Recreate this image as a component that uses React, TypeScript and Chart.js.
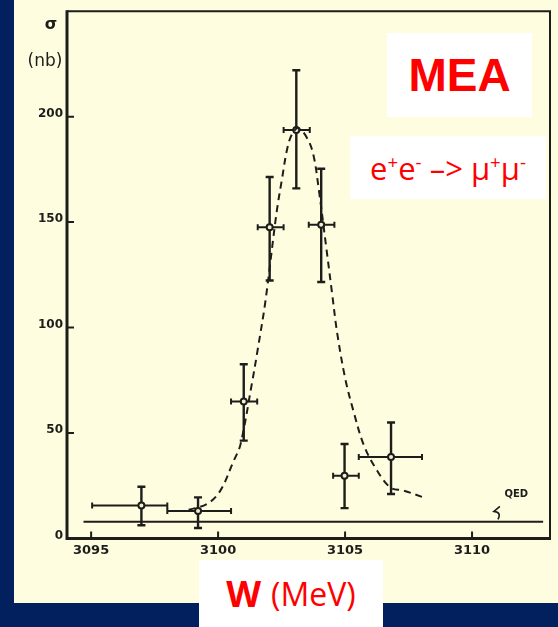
import { useEffect, useRef } from "react";
import { Chart, registerables } from "chart.js";

Chart.register(...registerables);

// Measured cross section of e+e- -> mu+mu- across the resonance
const energies = [3096.98, 3099.21, 3101.01, 3102.03, 3103.08, 3104.06, 3104.98, 3106.81]; // W (MeV)
const binLow = [3095.04, 3098.0, 3100.51, 3101.56, 3102.58, 3103.57, 3104.53, 3105.54];
const binHigh = [3098.0, 3100.51, 3101.54, 3102.58, 3103.61, 3104.58, 3105.54, 3108.03];
const sigma = [15.6, 13.0, 65.0, 147.6, 193.7, 148.8, 29.7, 38.6]; // nb
const sigmaLow = [6.3, 5.0, 46.4, 122.3, 166.0, 121.6, 14.4, 21.1];
const sigmaHigh = [24.5, 19.5, 82.6, 171.4, 222.0, 175.3, 44.8, 55.0];

// Dashed resonance curve
const fitW = [
  3098.84, 3099.57, 3100.09, 3100.61, 3100.88, 3101.34, 3101.56, 3101.86, 3102.3,
  3102.52, 3102.72, 3102.91, 3103.16, 3103.53, 3103.76, 3103.96, 3104.26, 3104.49,
  3104.69, 3105.01, 3105.34, 3105.73, 3106.19, 3106.78, 3107.31, 3108.09,
];
const fitSigma = [
  13.6, 16.4, 22.7, 36.7, 44.5, 74.1, 89.6, 112.2, 154.3, 170.7, 184.7, 191.7, 194.6,
  189.3, 181.5, 166.0, 137.9, 116.1, 97.4, 75.6, 60.0, 44.5, 33.6, 24.2, 22.7, 19.5,
];

// QED expectation level
const qedW = [3094.7, 3112.8];
const qedSigma = [8, 8];
const qedLabelAt = { x: 3111.74, y: 20.8 };
const qedHookAt = { x: 3110.98, y: 11.9 };

const xTicks = [3095, 3100, 3105, 3110];
const yTicks = [0, 50, 100, 150, 200];

const INK = "#1d1d1b";
const PAPER = "#fffde0";
const NAVY = "#03205e";

const paperPlugin = {
  id: "paper",
  beforeDraw(chart: any) {
    const { ctx, width, height } = chart;
    ctx.save();
    ctx.fillStyle = NAVY;
    ctx.fillRect(0, 0, width, height);
    ctx.fillStyle = PAPER;
    ctx.fillRect(14, 0, width - 14, 603);
    ctx.restore();
  },
};

const errorBarPlugin = {
  id: "errorBars",
  beforeDatasetsDraw(chart: any) {
    const { ctx, scales } = chart;
    const xs = scales.x;
    const ys = scales.y;
    ctx.save();
    ctx.strokeStyle = INK;
    ctx.lineCap = "butt";
    energies.forEach((w, i) => {
      const cx = xs.getPixelForValue(w);
      const cy = ys.getPixelForValue(sigma[i]);
      const top = ys.getPixelForValue(sigmaHigh[i]);
      const bot = ys.getPixelForValue(sigmaLow[i]);
      const left = xs.getPixelForValue(binLow[i]);
      const right = xs.getPixelForValue(binHigh[i]);
      // vertical bar with caps
      ctx.lineWidth = 2.4;
      ctx.beginPath();
      ctx.moveTo(cx, top);
      ctx.lineTo(cx, bot);
      ctx.moveTo(cx - 4, top);
      ctx.lineTo(cx + 4, top);
      ctx.moveTo(cx - 4, bot);
      ctx.lineTo(cx + 4, bot);
      ctx.stroke();
      // horizontal bar with caps
      ctx.lineWidth = 2;
      ctx.beginPath();
      ctx.moveTo(left, cy);
      ctx.lineTo(right, cy);
      ctx.moveTo(left, cy - 3);
      ctx.lineTo(left, cy + 3);
      ctx.moveTo(right, cy - 3);
      ctx.lineTo(right, cy + 3);
      ctx.stroke();
    });
    ctx.restore();
  },
};

const framePlugin = {
  id: "frame",
  afterDraw(chart: any) {
    const { ctx, chartArea, scales } = chart;
    const { left, right, top, bottom } = chartArea;
    const xs = scales.x;
    const ys = scales.y;
    ctx.save();
    ctx.strokeStyle = INK;
    // frame
    ctx.lineWidth = 2;
    ctx.beginPath();
    ctx.moveTo(left, top);
    ctx.lineTo(right, top);
    ctx.lineTo(right, bottom);
    ctx.stroke();
    ctx.lineWidth = 3;
    ctx.beginPath();
    ctx.moveTo(left, top - 1);
    ctx.lineTo(left, bottom);
    ctx.lineTo(right + 1, bottom);
    ctx.stroke();
    // inward tick marks
    ctx.lineWidth = 2;
    ctx.beginPath();
    xTicks.forEach((v) => {
      const px = xs.getPixelForValue(v);
      ctx.moveTo(px, bottom);
      ctx.lineTo(px, bottom - 7);
    });
    yTicks.forEach((v) => {
      if (v === 0) return;
      const py = ys.getPixelForValue(v);
      ctx.moveTo(left, py);
      ctx.lineTo(left + 7, py);
    });
    ctx.stroke();

    // axis title
    ctx.fillStyle = INK;
    ctx.textAlign = "center";
    ctx.textBaseline = "middle";
    ctx.font = "bold 16px 'DejaVu Sans'";
    ctx.fillText("σ", 51, 25);
    ctx.font = "17px 'DejaVu Sans'";
    ctx.fillText("(nb)", 45, 62);

    // QED marker
    ctx.font = "bold 10px 'DejaVu Sans'";
    ctx.fillText("QED", xs.getPixelForValue(qedLabelAt.x), ys.getPixelForValue(qedLabelAt.y));
    const hx = xs.getPixelForValue(qedHookAt.x);
    const hy = ys.getPixelForValue(qedHookAt.y);
    ctx.lineWidth = 1.6;
    ctx.beginPath();
    ctx.moveTo(hx + 3, hy - 7);
    ctx.lineTo(hx - 3, hy - 2);
    ctx.quadraticCurveTo(hx + 5, hy - 1, hx + 1, hy + 6);
    ctx.stroke();
    ctx.restore();
  },
};

export default function App() {
  const canvasRef = useRef<HTMLCanvasElement>(null);

  useEffect(() => {
    const canvas = canvasRef.current;
    if (!canvas) return;
    const chart = new Chart(canvas, {
      type: "scatter",
      data: {
        datasets: [
          {
            type: "line",
            data: fitW.map((w, i) => ({ x: w, y: fitSigma[i] })),
            borderColor: INK,
            borderWidth: 2,
            borderDash: [7, 5],
            pointRadius: 0,
            fill: false,
            tension: 0.35,
          },
          {
            type: "line",
            data: qedW.map((w, i) => ({ x: w, y: qedSigma[i] })),
            borderColor: INK,
            borderWidth: 2,
            pointRadius: 0,
            fill: false,
          },
          {
            type: "scatter",
            data: energies.map((w, i) => ({ x: w, y: sigma[i] })),
            pointRadius: 3,
            pointBorderWidth: 2,
            pointBorderColor: INK,
            pointBackgroundColor: "#f3efcf",
          },
        ],
      },
      options: {
        responsive: false,
        animation: false,
        devicePixelRatio: 1,
        layout: { padding: { left: 0, top: 4, right: 8, bottom: 0 } },
        plugins: { legend: { display: false }, tooltip: { enabled: false } },
        scales: {
          x: {
            type: "linear",
            min: 3094.05,
            max: 3113.07,
            afterBuildTicks: (s: any) => {
              s.ticks = xTicks.map((v) => ({ value: v }));
            },
            afterFit: (s: any) => {
              s.height = 88.5;
            },
            grid: { display: false, drawTicks: false },
            border: { display: false },
            ticks: {
              color: INK,
              padding: 4,
              maxRotation: 0,
              font: { family: "'DejaVu Sans'", weight: "bold", size: 13 },
              callback: (v: any) => String(v),
            },
          },
          y: {
            type: "linear",
            min: 0,
            max: 250,
            afterBuildTicks: (s: any) => {
              s.ticks = yTicks.map((v) => ({ value: v }));
            },
            afterFit: (s: any) => {
              s.width = 67;
            },
            grid: { display: false, drawTicks: false },
            border: { display: false },
            ticks: {
              color: INK,
              padding: 4,
              labelOffset: -3,
              font: { family: "'DejaVu Sans'", weight: "bold", size: 12 },
              callback: (v: any) => String(v),
            },
          },
        },
      },
      plugins: [paperPlugin, errorBarPlugin, framePlugin],
    } as any);
    return () => chart.destroy();
  }, []);

  const box: React.CSSProperties = {
    position: "absolute",
    background: "#ffffff",
    color: "#ff0000",
    display: "flex",
    alignItems: "center",
    justifyContent: "center",
    whiteSpace: "nowrap",
  };

  return (
    <div style={{ position: "fixed", left: 0, top: 0, width: 558, height: 627, overflow: "hidden" }}>
      <canvas ref={canvasRef} width={558} height={627} style={{ display: "block" }} />
      <div
        style={{
          ...box,
          left: 387,
          top: 33,
          width: 145,
          height: 84,
          font: "bold 46px 'Liberation Sans', sans-serif",
        }}
      >
        MEA
      </div>
      <div
        style={{
          ...box,
          left: 350,
          top: 136,
          width: 196,
          height: 63,
          font: "31px 'Open Sans', sans-serif",
        }}
      >
        <span>
          e<sup style={{ fontSize: "60%" }}>+</sup>e<sup style={{ fontSize: "60%" }}>-</sup> –&gt; μ
          <sup style={{ fontSize: "60%" }}>+</sup>μ<sup style={{ fontSize: "60%" }}>-</sup>
        </span>
      </div>
      <div
        style={{
          ...box,
          left: 199,
          top: 560,
          width: 184,
          height: 67,
          font: "32px 'Open Sans', sans-serif",
        }}
      >
        <span style={{ fontWeight: "bold", fontSize: 36, marginRight: 10 }}>W</span>
        <span>(MeV)</span>
      </div>
    </div>
  );
}
